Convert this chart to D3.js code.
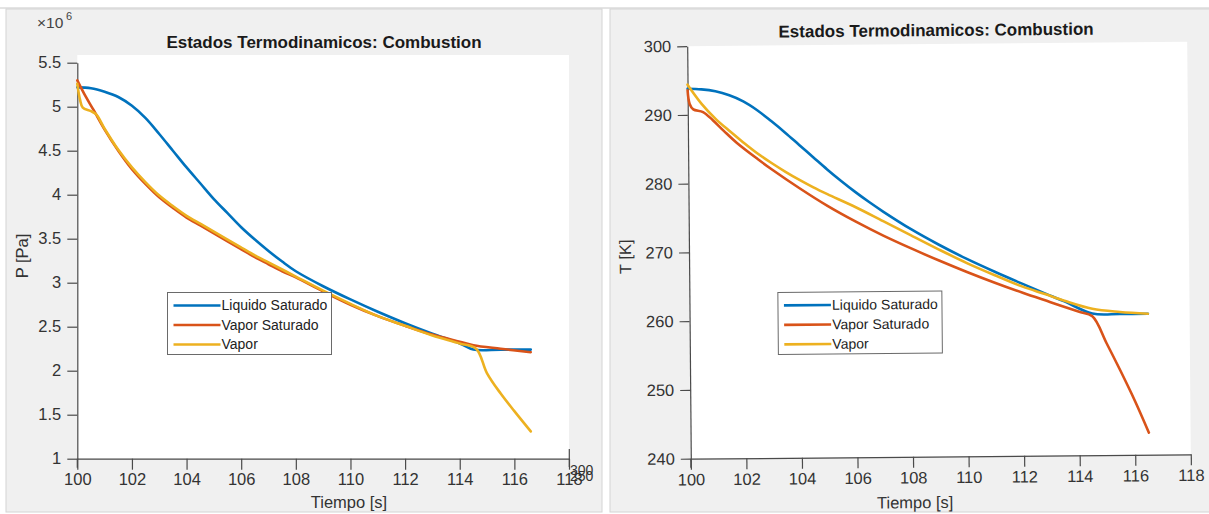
<!DOCTYPE html>
<html>
<head>
<meta charset="utf-8">
<script src="https://cdn.jsdelivr.net/npm/d3@7"></script>
<style>
  body { margin: 0; background: #fff; }
  svg { display: block; font-family: "Liberation Sans", Arial, sans-serif; }
</style>
</head>
<body>
<div id="chart"></div>
<script>
// Series names (legend) and colours
const seriesNames = ['Liquido Saturado', 'Vapor Saturado', 'Vapor'];
const seriesColors = ['#0072BD', '#D95319', '#EDB120'];

// Left panel: pressure (x 1e6 Pa) vs time
const presTicksX = [100, 102, 104, 106, 108, 110, 112, 114, 116, 118];
const presTicksY = [1, 1.5, 2, 2.5, 3, 3.5, 4, 4.5, 5, 5.5];

const liqPTime = [100, 100.5, 101, 101.5, 102, 102.5, 103, 103.5, 104, 104.5, 105, 105.5, 106, 106.5, 107, 107.5, 108, 109, 110, 111, 112, 113, 114, 114.5, 115.5, 116.6];
const liqP     = [5.22, 5.21, 5.17, 5.11, 5.01, 4.87, 4.69, 4.50, 4.31, 4.13, 3.95, 3.79, 3.63, 3.49, 3.36, 3.24, 3.13, 2.96, 2.81, 2.67, 2.54, 2.42, 2.31, 2.24, 2.24, 2.24];

const vapSatPTime = [100, 100.3, 100.6, 101, 101.5, 102, 102.5, 103, 103.5, 104, 104.5, 105, 105.5, 106, 106.5, 107, 107.5, 108, 109, 110, 111, 112, 113, 114, 114.5, 115.5, 116.6];
const vapSatP     = [5.30, 5.12, 4.96, 4.74, 4.50, 4.29, 4.12, 3.97, 3.85, 3.74, 3.65, 3.56, 3.47, 3.38, 3.29, 3.21, 3.13, 3.06, 2.90, 2.75, 2.62, 2.51, 2.41, 2.33, 2.29, 2.25, 2.21];

const vapPTime = [100, 100.1, 100.2, 100.5, 100.7, 101, 101.5, 102, 102.5, 103, 103.5, 104, 104.5, 105, 105.5, 106, 106.5, 107, 107.5, 108, 109, 110, 111, 112, 113, 114, 114.6, 115, 115.5, 116, 116.6];
const vapP     = [5.26, 5.08, 4.99, 4.95, 4.91, 4.75, 4.51, 4.31, 4.14, 3.99, 3.87, 3.76, 3.67, 3.58, 3.49, 3.40, 3.31, 3.23, 3.15, 3.07, 2.91, 2.76, 2.62, 2.51, 2.40, 2.31, 2.25, 1.97, 1.74, 1.54, 1.31];

// Right panel: temperature (K) vs time
const tempTicksX = [100, 102, 104, 106, 108, 110, 112, 114, 116, 118];
const tempTicksY = [240, 250, 260, 270, 280, 290, 300];

const liqTTime = [100, 100.5, 101, 101.5, 102, 102.5, 103, 103.5, 104, 104.5, 105, 105.5, 106, 106.5, 107, 108, 109, 110, 111, 112, 112.8, 113.5, 114.5, 115.5, 116.5];
const liqT     = [293.8, 293.7, 293.4, 292.8, 291.9, 290.6, 289.0, 287.3, 285.5, 283.7, 281.9, 280.2, 278.6, 277.1, 275.7, 273.1, 270.8, 268.7, 266.8, 265.0, 263.6, 262.4, 260.6, 260.5, 260.5];

const vapSatTTime = [100, 100.07, 100.2, 100.55, 100.9, 101.3, 101.75, 102.5, 103, 104, 105, 106, 107, 108, 109, 110, 111, 112, 113, 114, 114.5, 115, 115.5, 116, 116.5];
const vapSatT     = [293.6, 291.6, 290.8, 290.4, 289.2, 287.6, 285.9, 283.5, 282.0, 279.2, 276.6, 274.3, 272.2, 270.3, 268.5, 266.8, 265.2, 263.7, 262.3, 260.9, 260.2, 256.3, 252.2, 247.9, 243.2];

const vapTTime = [100, 100.5, 101, 101.5, 102, 102.5, 103, 103.5, 104, 104.5, 105, 106, 107, 108, 109, 110, 111, 112, 112.8, 113.5, 114.5, 115.5, 116.5];
const vapT     = [294.4, 291.6, 289.4, 287.6, 285.9, 284.3, 282.9, 281.6, 280.4, 279.3, 278.3, 276.4, 274.3, 272.2, 270.1, 268.1, 266.3, 264.6, 263.5, 262.5, 261.3, 260.8, 260.5];

const W = 1209, H = 514;

const svg = d3.select('#chart')
    .append('svg')
    .attr('width', W)
    .attr('height', H);

// Document frame: thin rule at the top and the two grey figure backgrounds
svg.append('line')
    .attr('x1', 0).attr('x2', W).attr('y1', 8).attr('y2', 8)
    .attr('stroke', '#c8c8c8');
svg.append('rect')
    .attr('x', 6).attr('y', 9).attr('width', 596).attr('height', 503)
    .attr('fill', '#f0f0f0').attr('stroke', '#d4d4d4');
svg.append('rect')
    .attr('x', 610).attr('y', 9).attr('width', 600).attr('height', 503)
    .attr('fill', '#f0f0f0').attr('stroke', '#d4d4d4');

function zip(ts, vs) {
    return ts.map((t, i) => ({ t: t, v: vs[i] }));
}

function drawPanel(opts) {
    const g = svg.append('g').attr('transform', opts.transform || null);

    const x = d3.scaleLinear().domain([100, 118]).range(opts.xRange);
    const y = d3.scaleLinear().domain(opts.yDomain).range(opts.yRange);

    // White axes background
    g.append('rect')
        .attr('x', opts.xRange[0])
        .attr('y', opts.boxTop)
        .attr('width', opts.xRange[1] - opts.xRange[0])
        .attr('height', opts.yRange[0] - opts.boxTop)
        .attr('fill', '#fff');

    // Axes (ticks pointing out)
    const xAxis = g.append('g')
        .attr('transform', `translate(0,${opts.yRange[0]})`)
        .call(d3.axisBottom(x).tickValues(opts.xTicks).tickSize(11).tickSizeOuter(0).tickPadding(4));
    const yAxis = g.append('g')
        .attr('transform', `translate(${opts.xRange[0]},0)`)
        .call(d3.axisLeft(y).tickValues(opts.yTicks).tickSize(10).tickSizeOuter(0).tickPadding(6)
            .tickFormat(d3.format('~g')));

    [xAxis, yAxis].forEach(a => {
        a.select('.domain').attr('stroke', '#4a4a4a').attr('stroke-width', 1.2);
        a.selectAll('.tick line').attr('stroke', '#4a4a4a').attr('stroke-width', 1.2);
        a.selectAll('.tick text')
            .attr('fill', '#333')
            .style('font-size', '16.5px')
            .style('font-family', '"Liberation Sans", Arial, sans-serif');
    });
    // axis lines reach a little past the corner, like the original
    g.append('line')
        .attr('x1', opts.xRange[0]).attr('x2', opts.xRange[0])
        .attr('y1', opts.yRange[0]).attr('y2', opts.yRange[0] + 9)
        .attr('stroke', '#4a4a4a').attr('stroke-width', 1.2);

    // Curves
    const line = d3.line()
        .x(d => x(d.t))
        .y(d => y(d.v))
        .curve(d3.curveCatmullRom.alpha(0.5));

    opts.series.forEach((s, i) => {
        g.append('path')
            .datum(s)
            .attr('fill', 'none')
            .attr('stroke', seriesColors[i])
            .attr('stroke-width', 2.6)
            .attr('stroke-linejoin', 'round')
            .attr('stroke-linecap', 'round')
            .attr('d', line);
    });

    // Title
    g.append('text')
        .attr('x', opts.titleX)
        .attr('y', opts.titleY)
        .attr('text-anchor', 'middle')
        .style('font-size', '17px')
        .style('font-weight', 'bold')
        .attr('fill', '#1a1a1a')
        .text('Estados Termodinamicos: Combustion');

    // X label
    g.append('text')
        .attr('x', opts.xLabelX)
        .attr('y', 508)
        .attr('text-anchor', 'middle')
        .style('font-size', '16.5px')
        .attr('fill', '#333')
        .text('Tiempo [s]');

    // Y label
    g.append('text')
        .attr('transform', `translate(${opts.yLabelX},${opts.yLabelY}) rotate(-90)`)
        .attr('text-anchor', 'middle')
        .style('font-size', '16.5px')
        .attr('fill', '#333')
        .text(opts.yLabel);

    // Legend
    const lg = g.append('g').attr('transform', `translate(${opts.legendX},${opts.legendY})`);
    lg.append('rect')
        .attr('width', 164).attr('height', 62)
        .attr('fill', '#fff')
        .attr('stroke', '#6a6a6a').attr('stroke-width', 1);
    seriesNames.forEach((name, i) => {
        const yy = 13 + i * 19.5;
        lg.append('line')
            .attr('x1', 6).attr('x2', 53).attr('y1', yy).attr('y2', yy)
            .attr('stroke', seriesColors[i]).attr('stroke-width', 2.6);
        lg.append('text')
            .attr('x', 54).attr('y', yy).attr('dy', '0.35em')
            .style('font-size', '14px')
            .attr('fill', '#222')
            .text(name);
    });

    return g;
}

// Left figure: pressure
const left = drawPanel({
    xRange: [77.3, 569],
    yDomain: [1, 5.5],
    yRange: [458.7, 62.7],
    boxTop: 55,
    xTicks: presTicksX,
    yTicks: presTicksY,
    series: [zip(liqPTime, liqP), zip(vapSatPTime, vapSatP), zip(vapPTime, vapP)],
    titleX: 324, titleY: 48,
    xLabelX: 349,
    yLabel: 'P [Pa]', yLabelX: 28, yLabelY: 256,
    legendX: 167.5, legendY: 292.5
});

// exponent label
left.append('text')
    .attr('x', 37).attr('y', 28)
    .style('font-size', '15.5px')
    .attr('fill', '#444')
    .text('\u00d710');
left.append('text')
    .attr('x', 66).attr('y', 20)
    .style('font-size', '11px')
    .attr('fill', '#444')
    .text('6');

// stray axis remnant at the lower right of the left figure
left.append('line')
    .attr('x1', 569.3).attr('x2', 569.3).attr('y1', 449).attr('y2', 467)
    .attr('stroke', '#4a4a4a').attr('stroke-width', 1.2);
['300', '250'].forEach((lbl, i) => {
    left.append('text')
        .attr('x', 570).attr('y', 475 + i * 6)
        .style('font-size', '14px')
        .attr('fill', '#333')
        .text(lbl);
});

// Right figure: temperature (photo is slightly rotated)
drawPanel({
    transform: 'rotate(-0.5,939,252)',
    xRange: [689, 1189],
    yDomain: [240, 300],
    yRange: [456.5, 44],
    boxTop: 44,
    xTicks: tempTicksX,
    yTicks: tempTicksY,
    series: [zip(liqTTime, liqT), zip(vapSatTTime, vapSatT), zip(vapTTime, vapT)],
    titleX: 938, titleY: 36,
    xLabelX: 913,
    yLabel: 'T [K]', yLabelX: 631, yLabelY: 254,
    legendX: 777.5, legendY: 291
});
</script>
</body>
</html>
